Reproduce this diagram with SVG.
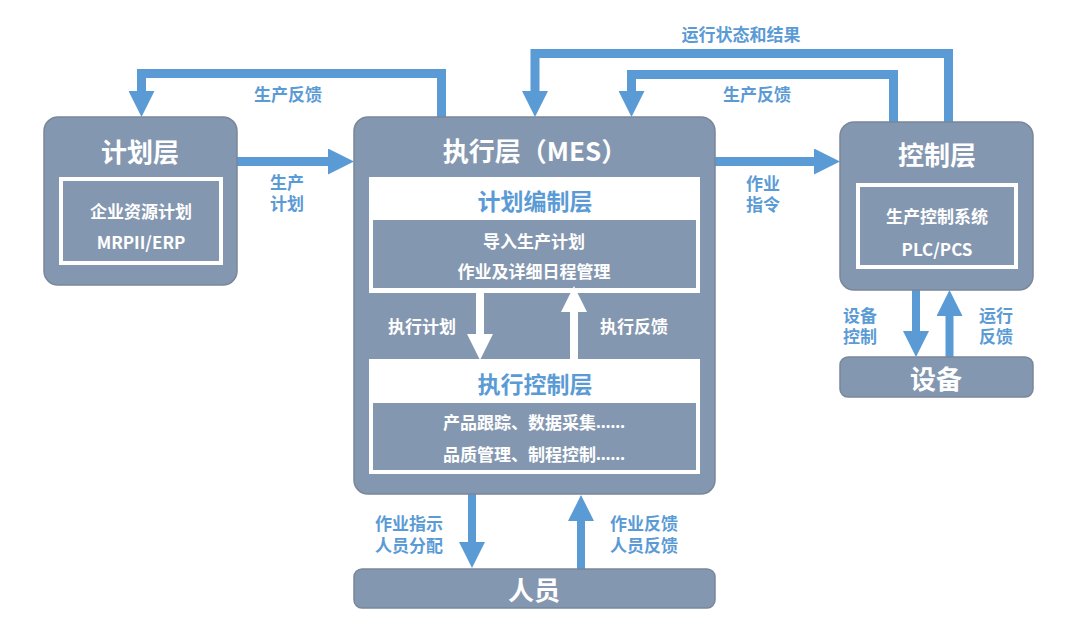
<svg xmlns="http://www.w3.org/2000/svg" width="1080" height="625" viewBox="0 0 1080 625">
<defs>
<marker id="hb" markerUnits="userSpaceOnUse" markerWidth="26" markerHeight="26" refX="0" refY="13" orient="auto" viewBox="0 0 26 26"><path d="M0,0 L26,13 L0,26 z" fill="#5B9BD5"/></marker>
<marker id="hw" markerUnits="userSpaceOnUse" markerWidth="26" markerHeight="26" refX="0" refY="13" orient="auto" viewBox="0 0 26 26"><path d="M0,0 L26,13 L0,26 z" fill="#FFFFFF"/></marker>
<style>
text{font-family:"Noto Sans CJK SC","Noto Sans",sans-serif;font-weight:bold;text-anchor:middle;dominant-baseline:central}
.box{fill:#8497B0;stroke:#7A8799;stroke-width:1.5}
.frame{fill:none;stroke:#FFFFFF;stroke-width:4}
.white{fill:#FFFFFF}
.inner{fill:#8497B0}
.t26{font-size:26px;fill:#FFFFFF}
.t17{font-size:17px;fill:#FFFFFF}
.sub{font-size:23px;fill:#5B9BD5}
.lbl{font-size:17px;fill:#5B9BD5}
.lw{font-size:17px;fill:#FFFFFF}
.ell{font-family:"Noto Sans","DejaVu Sans",sans-serif}
.c{fill:none;stroke:#5B9BD5;stroke-width:9;stroke-linejoin:miter}
.cw{fill:none;stroke:#FFFFFF;stroke-width:8}
</style>
</defs>

<g id="connectors">
<path class="c" d="M441.5,117 V73.5 H141.5 V91" marker-end="url(#hb)"/>
<path class="c" d="M948.5,122 V53.5 H535 V91" marker-end="url(#hb)"/>
<path class="c" d="M893.5,122 V74.5 H631.5 V91" marker-end="url(#hb)"/>
<path class="c" d="M237,161.5 H328" marker-end="url(#hb)"/>
<path class="c" d="M715,161.5 H814" marker-end="url(#hb)"/>
<path class="c" d="M916,290 V331" marker-end="url(#hb)" style="stroke-width:8"/>
<path class="c" d="M949.5,357 V316" marker-end="url(#hb)" style="stroke-width:8"/>
<path class="c" d="M472,494 V542" marker-end="url(#hb)" style="stroke-width:8"/>
<path class="c" d="M581,569 V521" marker-end="url(#hb)" style="stroke-width:8"/>
<text class="lbl" x="288" y="93">生产反馈</text>
<text class="lbl" x="741" y="33.5">运行状态和结果</text>
<text class="lbl" x="757" y="93">生产反馈</text>
<text class="lbl" x="287" y="181">生产<tspan x="287" dy="21">计划</tspan></text>
<text class="lbl" x="763" y="182">作业<tspan x="763" dy="21">指令</tspan></text>
<text class="lbl" x="860" y="314">设备<tspan x="860" dy="21">控制</tspan></text>
<text class="lbl" x="996" y="314">运行<tspan x="996" dy="21">反馈</tspan></text>
<text class="lbl" x="409" y="522">作业指示<tspan x="409" dy="22">人员分配</tspan></text>
<text class="lbl" x="644" y="522">作业反馈<tspan x="644" dy="22">人员反馈</tspan></text>
</g>

<g id="planning">
<rect class="box" x="44" y="117" width="193" height="168" rx="14"/>
<text class="t26" x="140" y="150">计划层</text>
<rect class="frame" x="61" y="179" width="160" height="84"/>
<text class="t17" x="141" y="210">企业资源计划</text>
<text class="t17" x="141" y="241">MRPII/ERP</text>
</g>

<g id="mes">
<rect class="box" x="354" y="117" width="361" height="377" rx="14"/>
<text class="t26" x="535" y="149">执行层（MES）</text>
<rect class="white" x="369" y="177" width="331" height="116"/>
<text class="sub" x="535" y="200">计划编制层</text>
<rect class="inner" x="373" y="220" width="323" height="68"/>
<text class="t17" x="534" y="240">导入生产计划</text>
<text class="t17" x="534" y="270">作业及详细日程管理</text>
<rect class="white" x="369" y="359" width="331" height="115"/>
<text class="sub" x="535" y="383">执行控制层</text>
<rect class="inner" x="373" y="403" width="323" height="67"/>
<text class="t17" x="534" y="421">产品跟踪、数据采集<tspan class="ell">……</tspan></text>
<text class="t17" x="534" y="453">品质管理、制程控制<tspan class="ell">……</tspan></text>
<path class="cw" d="M480,293 V334" marker-end="url(#hw)"/>
<path class="cw" d="M574,359 V312" marker-end="url(#hw)"/>
<text class="lw" x="422" y="325">执行计划</text>
<text class="lw" x="634" y="325">执行反馈</text>
</g>

<g id="control">
<rect class="box" x="840" y="122" width="193" height="168" rx="14"/>
<text class="t26" x="937" y="153">控制层</text>
<rect class="frame" x="858" y="185" width="158" height="82"/>
<text class="t17" x="937" y="215">生产控制系统</text>
<text class="t17" x="937" y="248">PLC/PCS</text>
</g>

<g id="device">
<rect class="box" x="840" y="357" width="193" height="40" rx="8"/>
<text class="t26" x="936" y="377">设备</text>
</g>

<g id="personnel">
<rect class="box" x="354" y="569" width="361" height="39" rx="8"/>
<text class="t26" x="534" y="588">人员</text>
</g>
</svg>
